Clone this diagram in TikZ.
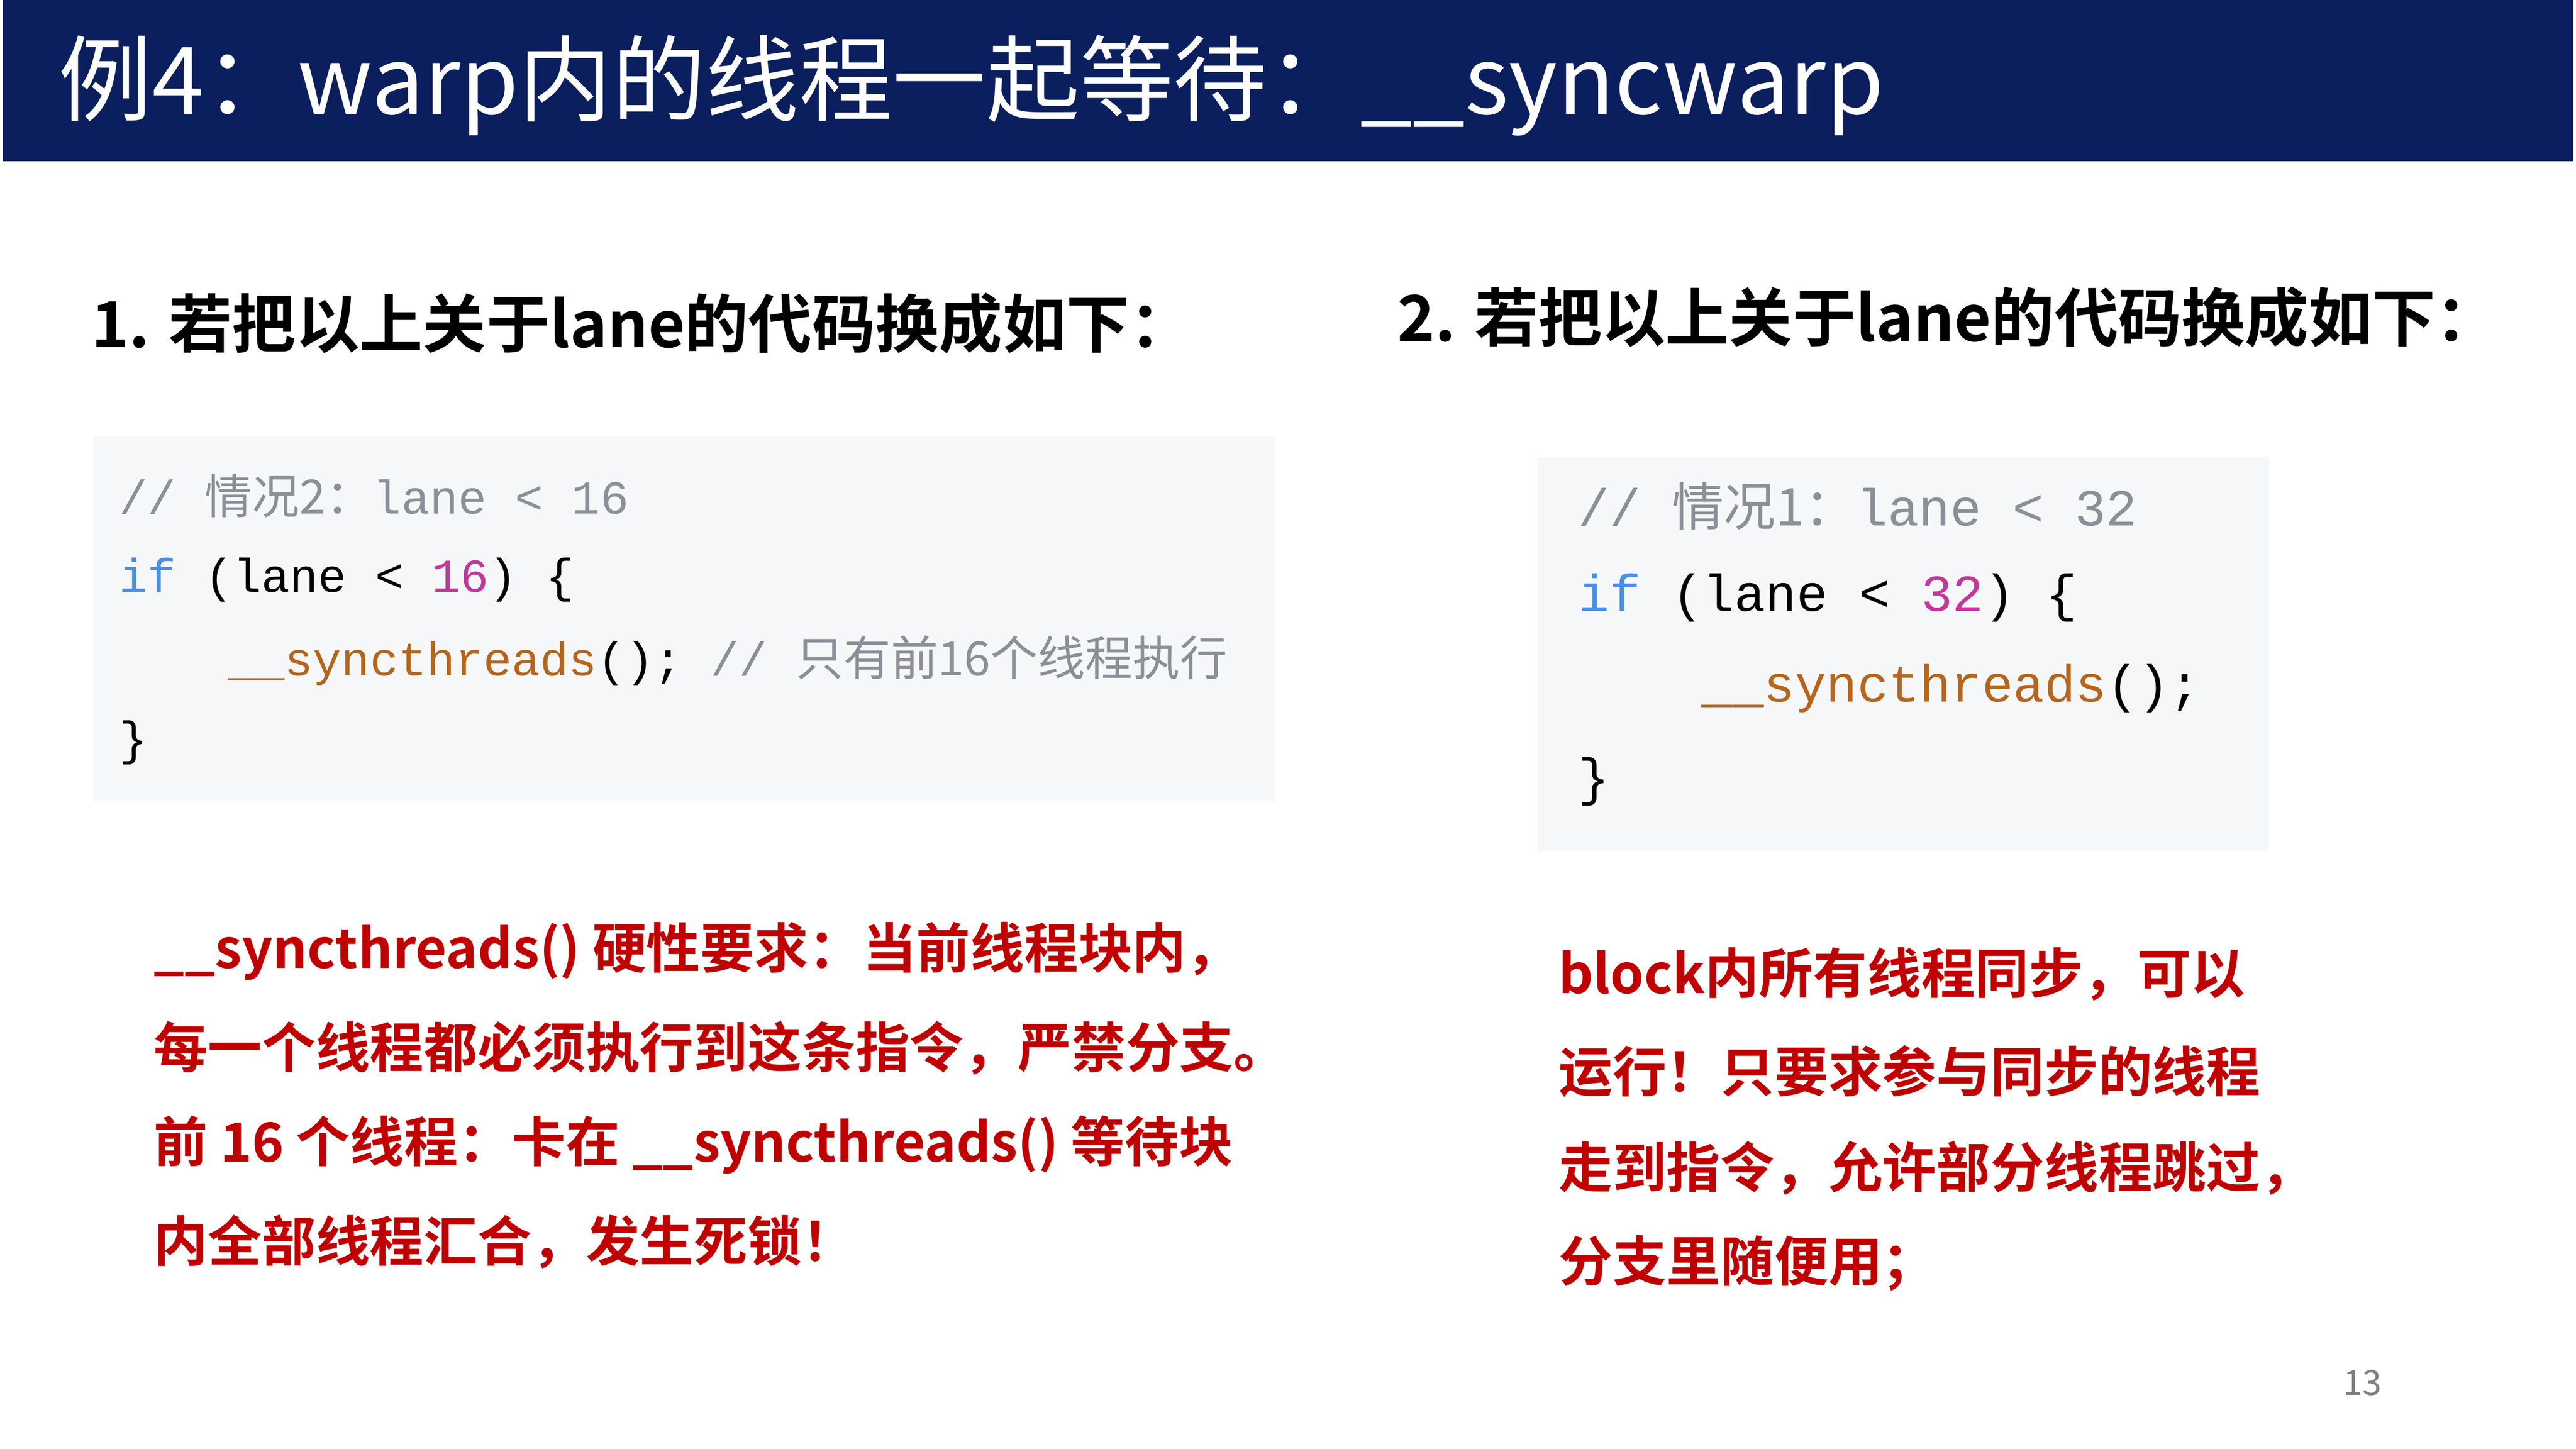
\documentclass[tikz,border=0pt]{standalone}
\usepackage{fontspec}
\newfontfamily\cjk[BoldFont=Noto Sans CJK SC Bold]{Noto Sans CJK SC}
\setmonofont{Liberation Mono}
\usetikzlibrary{positioning}
\definecolor{navy}{HTML}{0B1F5E}
\definecolor{codebg}{HTML}{F6F7F9}
\definecolor{cmt}{HTML}{8A8F98}
\definecolor{kw}{HTML}{4A8FE0}
\definecolor{num}{HTML}{C2379A}
\definecolor{fn}{HTML}{B5651D}
\definecolor{warn}{HTML}{C00000}
\tikzset{
  headline/.style={anchor=west,inner sep=0pt,font=\cjk\bfseries\fontsize{11}{13}\selectfont},
  codeA/.style={anchor=west,inner sep=0pt,font=\ttfamily\fontsize{8.2}{10}\selectfont},
  codeB/.style={anchor=west,inner sep=0pt,font=\ttfamily\fontsize{9}{11}\selectfont},
  note/.style={anchor=west,inner sep=0pt,text=warn,font=\cjk\bfseries\fontsize{9.35}{12}\selectfont}
}
\begin{document}
\begin{tikzpicture}[x=1cm,y=1cm]
\useasboundingbox (0,0) rectangle (15.68,8.82);
\fill[white] (0,0) rectangle (15.68,8.82);

% title bar
\fill[navy] (0.02,7.84) rectangle (15.66,8.82);
\node[anchor=west,inner sep=0pt,text=white,font=\cjk\fontsize{16.2}{18}\selectfont] (title) at (0.35,8.30) {例4：warp内的线程一起等待：\_\_syncwarp};

% headings
\node[headline] (headA) at (0.55,6.85) {1. 若把以上关于lane的代码换成如下：};
\node[headline] (headB) at (8.50,6.89) {2. 若把以上关于lane的代码换成如下：};

% code block 1
\fill[codebg] (0.57,3.94) rectangle (7.76,6.16);
\node[codeA,text=cmt] (a1) at (0.72,5.80) {// {\cjk 情况2：}lane < 16};
\node[codeA] (a2) at (0.72,5.29) {\textcolor{kw}{if} (lane < \textcolor{num}{16}) \{};
\node[codeA] (a3) at (1.38,4.80) {\textcolor{fn}{\_\_syncthreads}(); \textcolor{cmt}{// {\cjk 只有前16个线程执行}}};
\node[codeA] (a4) at (0.72,4.30) {\}};

% code block 2
\fill[codebg] (9.36,3.64) rectangle (13.81,6.04);
\node[codeB,text=cmt] (b1) at (9.60,5.74) {// {\cjk 情况1：}lane < 32};
\node[codeB] (b2) at (9.60,5.18) {\textcolor{kw}{if} (lane < \textcolor{num}{32}) \{};
\node[codeB] (b3) at (10.35,4.63) {\textcolor{fn}{\_\_syncthreads}();};
\node[codeB] (b4) at (9.60,4.06) {\}};

% notes left
\node[note] (n1) at (0.93,3.03) {\_\_syncthreads() 硬性要求：当前线程块内，};
\node[note] (n2) at (0.93,2.44) {每一个线程都必须执行到这条指令，严禁分支。};
\node[note] (n3) at (0.93,1.85) {前 16 个线程：卡在 \_\_syncthreads() 等待块};
\node[note] (n4) at (0.93,1.26) {内全部线程汇合，发生死锁！};

% notes right
\node[note] (m1) at (9.48,2.89) {block内所有线程同步，可以};
\node[note] (m2) at (9.48,2.30) {运行！只要求参与同步的线程};
\node[note] (m3) at (9.48,1.71) {走到指令，允许部分线程跳过，};
\node[note] (m4) at (9.48,1.13) {分支里随便用；};

\node[text=gray,font=\cjk\fontsize{6}{7}\selectfont] (page) at (14.38,0.40) {13};
\end{tikzpicture}
\end{document}
